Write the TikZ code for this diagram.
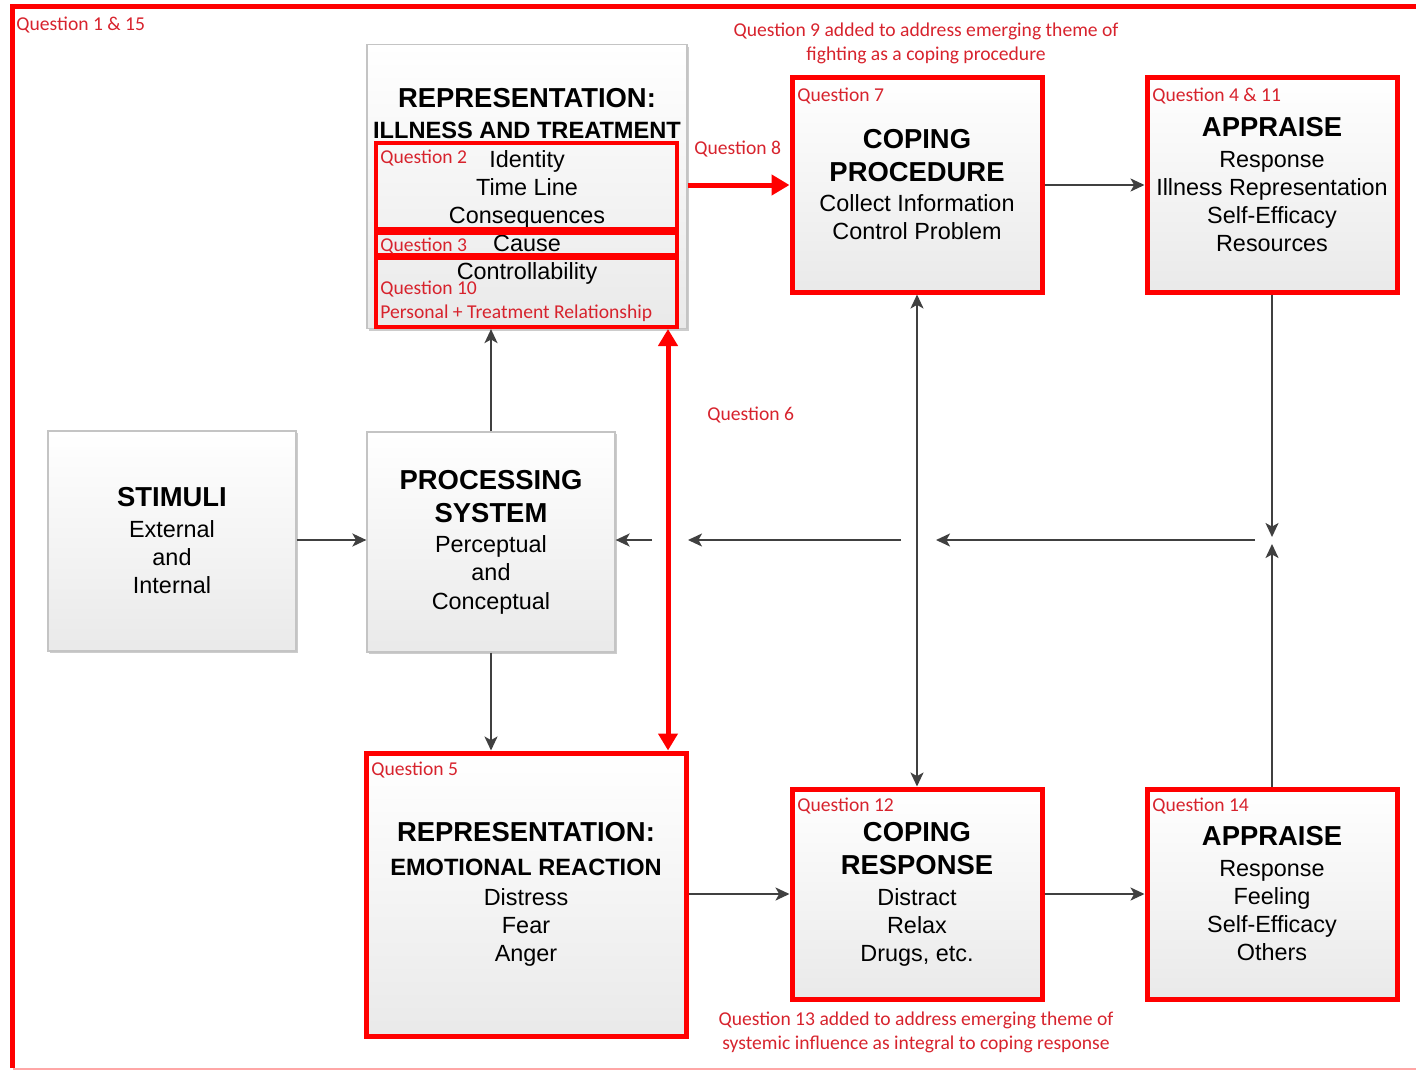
\documentclass[tikz,border=0pt]{standalone}
\usepackage{fontspec}
\setmainfont{Liberation Sans}
\newfontfamily\qfont{Carlito}
\usetikzlibrary{arrows.meta,shadows}
\definecolor{qred}{RGB}{215,35,45}
\definecolor{frame}{RGB}{255,0,0}
\definecolor{link}{RGB}{64,64,64}
\definecolor{boxline}{RGB}{196,196,196}
\newcommand{\hd}[1]{{\bfseries\fontsize{13.7}{16.5}\selectfont #1}}
\newcommand{\hdsmall}[1]{{\bfseries\fontsize{11.8}{14}\selectfont #1}}
\begin{document}
\begin{tikzpicture}[x=0.5pt,y=-0.5pt,
  box/.style={rectangle, inner sep=0pt, align=center, top color=white,
    bottom color=gray!17, font=\fontsize{11.7}{14}\selectfont},
  graybox/.style={box, draw=boxline, line width=0.6pt,
    drop shadow={shadow xshift=1.2pt, shadow yshift=-1.2pt, opacity=0.2, fill=black}},
  redbox/.style={box, draw=frame, line width=2.5pt},
  qframe/.style={rectangle, inner sep=0pt, draw=frame, line width=2pt},
  qlab/.style={anchor=west, inner sep=0pt, text=qred,
    font=\qfont\fontsize{9.8}{12}\selectfont},
  qnote/.style={inner sep=0pt, align=center, text=qred,
    font=\qfont\fontsize{9.8}{12}\selectfont},
  tip/.style={},
  conn/.style={draw=link, line width=1pt, -{Stealth[length=7pt,width=6.5pt,inset=1.8pt]}},
  conn2/.style={draw=link, line width=1pt, {Stealth[length=7pt,width=6.5pt,inset=1.8pt]}-{Stealth[length=7pt,width=6.5pt,inset=1.8pt]}},
  hot/.style={draw=frame, line width=2.5pt, -{Triangle[length=9pt,width=10pt]}},
  hot2/.style={draw=frame, line width=2.5pt, {Triangle[length=8.5pt,width=9.5pt]}-{Triangle[length=8.5pt,width=9.5pt]}}
]
\useasboundingbox (0,0) rectangle (1416,1070);

% outer frame
\draw[frame, line width=2.5pt, line join=miter] (12,1068) -- (12,7) -- (1416,7);
\draw[frame!35, line width=1pt] (13,1069) -- (1416,1069);

% gray boxes
\node[graybox, minimum width=124pt, minimum height=110pt] (stim) at (172,541)
  {\hd{STIMULI}\\[1.5pt] External\\ and\\ Internal};
\node[graybox, minimum width=124pt, minimum height=110pt] (proc) at (491,542)
  {\hd{PROCESSING}\\[2.5pt] \hd{SYSTEM}\\[1pt] Perceptual\\ and\\[0.5pt] Conceptual};
\node[graybox, minimum width=160pt, minimum height=142pt] (ill) at (527,186.5)
  {\hd{REPRESENTATION:}\\[1.5pt] \hdsmall{ILLNESS AND TREATMENT}\\[0.5pt]
   Identity\\ Time Line\\ Consequences\\ Cause\\ Controllability};

% red sub-frames of the illness representation
\node[qframe, minimum width=150.5pt, minimum height=43pt] (q2box) at (526.5,185.5) {};
\node[qframe, minimum width=150.5pt, minimum height=11pt] (q3box) at (526.5,244) {};
\node[qframe, minimum width=150.5pt, minimum height=34.5pt] (q10box) at (526.5,292.5) {};

% red boxes
\node[redbox, minimum width=125pt, minimum height=107pt] (cp) at (917,185)
  {\hd{COPING}\\[2.5pt] \hd{PROCEDURE}\\[1pt] Collect Information\\ Control Problem};
\node[redbox, minimum width=125pt, minimum height=107pt] (apT) at (1272,185)
  {\hd{APPRAISE}\\[1.5pt] Response\\ Illness Representation\\ Self-Efficacy\\ Resources};
\node[redbox, minimum width=160pt, minimum height=141.5pt] (emo) at (526,894.5)
  {\hd{REPRESENTATION:}\\[3pt] \hdsmall{EMOTIONAL REACTION}\\[1pt] Distress\\ Fear\\ Anger};
\node[redbox, minimum width=125pt, minimum height=105pt] (cr) at (917,894)
  {\hd{COPING}\\[2.5pt] \hd{RESPONSE}\\[1.5pt] Distract\\ Relax\\ Drugs, etc.};
\node[redbox, minimum width=125pt, minimum height=105pt] (apB) at (1272,894)
  {\hd{APPRAISE}\\[1.5pt] Response\\ Feeling\\ Self-Efficacy\\ Others};

% question labels
\node[qlab] (l1) at (16,25) {Question 1 \& 15};
\node[qnote] (l9) at (926,43) {Question 9 added to address emerging theme of\\ fighting as a coping procedure};
\node[qlab] (l8) at (694,149) {Question 8};
\node[qlab] (l6) at (707,415) {Question 6};
\node[qnote] (l13) at (916,1032) {Question 13 added to address emerging theme of\\ systemic influence as integral to coping response};
\node[qlab] (l7) at (797,96) {Question 7};
\node[qlab] (l4) at (1152,96) {Question 4 \& 11};
\node[qlab] (l5) at (371,770) {Question 5};
\node[qlab] (l12) at (797,806) {Question 12};
\node[qlab] (l14) at (1152,806) {Question 14};
\node[qlab] (l2) at (380,158.5) {Question 2};
\node[qlab] (l3) at (380,246.5) {Question 3};
\node[qlab, align=left] (l10) at (380,301) {Question 10\\ Personal + Treatment Relationship};

% helper points
\coordinate (q6x) at (668,540);
\coordinate (jn) at (1272,540);
\coordinate (fbA) at (1255,540);
\coordinate (fbB) at (936,540);
\coordinate (fbC) at (901,540);
\coordinate (fbD) at (688,540);
\coordinate (fbE) at (652,540);

% connectors
\draw[conn] (stim.east |- q6x) -- (proc.west |- q6x);
\draw[conn] (proc.north) -- (proc.north |- ill.south);
\draw[conn] (proc.south) -- (proc.south |- emo.north);
\draw[conn] (cp) -- (apT);
\draw[conn2] (cp) -- (cr);
\draw[conn] (emo.east |- cr.west) -- (cr.west);
\draw[conn] (cr) -- (apB);
\draw[conn] (apT) -- ([yshift=1.5pt]jn);
\draw[conn] (apB) -- ([yshift=-2pt]jn);
\draw[conn] (fbA) -- (fbB);
\draw[conn] (fbC) -- (fbD);
\draw[conn] (fbE) -- (proc.east |- fbE);

% highlighted links
\draw[hot] (ill.east |- cp.west) -- (cp.west);
\draw[hot2] (q6x |- q10box.south) -- (q6x |- emo.north);
\end{tikzpicture}
\end{document}
